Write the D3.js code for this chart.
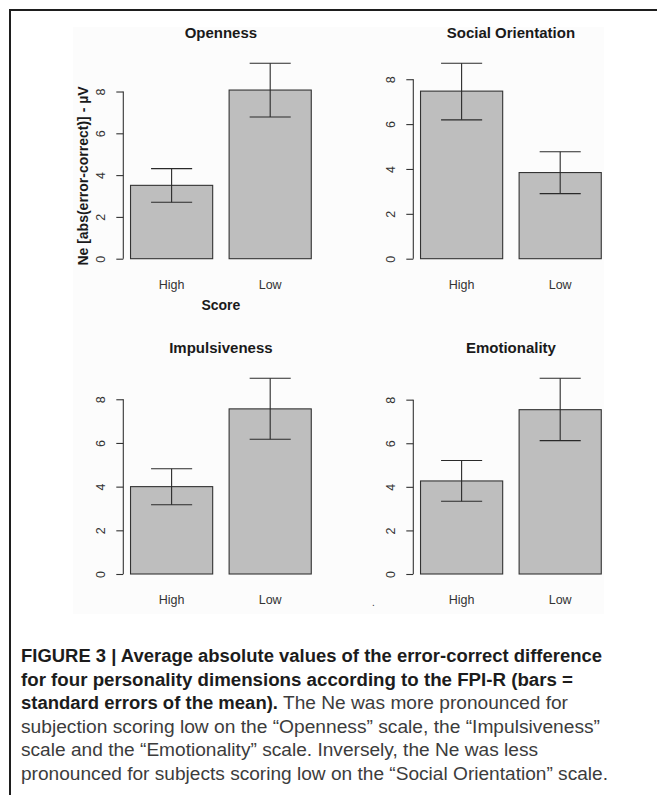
<!DOCTYPE html>
<html>
<head>
<meta charset="utf-8">
<script src="https://cdn.jsdelivr.net/npm/d3@7"></script>
<style>
  html, body { margin: 0; padding: 0; background: #fff; }
  svg { display: block; }
</style>
</head>
<body>
<svg id="chart" width="657" height="795"></svg>
<script>
// ---- data ----
const panelTitles = ["Openness", "Social Orientation", "Impulsiveness", "Emotionality"];
const categories = ["High", "Low"];
const means = [[3.51, 8.07], [7.47, 3.84], [4.00, 7.56], [4.27, 7.54]];
const lowerSE = [[2.70, 6.78], [6.19, 2.90], [3.17, 6.17], [3.34, 6.12]];
const upperSE = [[4.31, 9.35], [8.71, 4.77], [4.82, 8.96], [5.21, 8.98]];
const yTicks = [0, 2, 4, 6, 8];
const yTitle = "Ne [abs(error-correct)] - µV";
const xTitle = "Score";
const captionLines = [
  [{t: "FIGURE 3 | Average absolute values of the error-correct difference", b: true}],
  [{t: "for four personality dimensions according to the FPI-R (bars =", b: true}],
  [{t: "standard errors of the mean).", b: true}, {t: "The Ne was more pronounced for", b: false}],
  [{t: "subjection scoring low on the “Openness” scale, the “Impulsiveness”", b: false}],
  [{t: "scale and the “Emotionality” scale. Inversely, the Ne was less", b: false}],
  [{t: "pronounced for subjects scoring low on the “Social Orientation” scale.", b: false}]
];

// ---- layout ----
const svg = d3.select("#chart");
const font = "'Liberation Sans', Arial, Helvetica, sans-serif";
const colAxisX = [123.3, 413.3];
const rowY0 = [258.7, 574];
const rowTop = [63.3, 378.3];
const plotW = 195.2;

// frame
svg.append("line").attr("x1", 9.5).attr("x2", 657).attr("y1", 10).attr("y2", 10)
  .attr("stroke", "#1e1e1e").attr("stroke-width", 2);
svg.append("line").attr("x1", 10).attr("x2", 10).attr("y1", 9).attr("y2", 795)
  .attr("stroke", "#1e1e1e").attr("stroke-width", 2);
// faint figure background
svg.append("rect").attr("x", 73).attr("y", 27).attr("width", 531).attr("height", 587)
  .attr("fill", "#fcfcfc");

panelTitles.forEach((title, i) => {
  const col = i % 2, row = Math.floor(i / 2);
  const ax = colAxisX[col], y0 = rowY0[row], yT = rowTop[row];
  const ymax = d3.max(upperSE[i]);
  const x = d3.scaleBand().domain(categories).range([ax, ax + plotW])
    .paddingInner(0.2 / 1.2).paddingOuter(0.088 / 1.2);
  const y = d3.scaleLinear().domain([0, ymax]).range([y0, yT]);
  const g = svg.append("g");

  // bars
  g.selectAll("rect.bar").data(categories).enter().append("rect")
    .attr("class", "bar")
    .attr("x", d => x(d))
    .attr("width", x.bandwidth())
    .attr("y", (d, j) => y(means[i][j]))
    .attr("height", (d, j) => y(0) - y(means[i][j]))
    .attr("fill", "#bebebe").attr("stroke", "#333").attr("stroke-width", 1.1);

  // error bars
  const capHalf = x.bandwidth() / 4;
  categories.forEach((c, j) => {
    const cx = x(c) + x.bandwidth() / 2;
    const eb = g.append("g").attr("stroke", "#2a2a2a").attr("stroke-width", 1.1);
    eb.append("line").attr("x1", cx).attr("x2", cx)
      .attr("y1", y(lowerSE[i][j])).attr("y2", y(upperSE[i][j]));
    eb.append("line").attr("x1", cx - capHalf).attr("x2", cx + capHalf)
      .attr("y1", y(upperSE[i][j])).attr("y2", y(upperSE[i][j]));
    eb.append("line").attr("x1", cx - capHalf).attr("x2", cx + capHalf)
      .attr("y1", y(lowerSE[i][j])).attr("y2", y(lowerSE[i][j]));
  });

  // y axis
  const yAxis = d3.axisLeft(y).tickValues(yTicks).tickSize(7).tickSizeOuter(0).tickPadding(11);
  const ya = g.append("g").attr("transform", `translate(${ax},0)`).call(yAxis);
  ya.select(".domain").attr("d", `M-0,${y(yTicks[0])}V${y(yTicks[yTicks.length - 1])}`)
    .attr("stroke", "#333").attr("stroke-width", 1.1);
  ya.selectAll(".tick line").attr("stroke", "#333").attr("stroke-width", 1.1);
  ya.selectAll(".tick text")
    .attr("x", null).attr("dy", null)
    .attr("transform", "translate(-18.5,0) rotate(-90)")
    .attr("text-anchor", "middle")
    .attr("fill", "#333")
    .style("font-family", font).style("font-size", "12.5px");

  // category labels
  g.selectAll("text.cat").data(categories).enter().append("text")
    .attr("class", "cat")
    .attr("x", d => x(d) + x.bandwidth() / 2)
    .attr("y", y0 + 30.3)
    .attr("text-anchor", "middle")
    .attr("fill", "#333")
    .style("font-family", font).style("font-size", "12.5px")
    .text(d => d);

  // title
  g.append("text")
    .attr("x", ax + plotW / 2)
    .attr("y", y0 - 221.2)
    .attr("text-anchor", "middle")
    .attr("fill", "#1a1a1a")
    .style("font-family", font).style("font-size", "15px").style("font-weight", "bold")
    .text(title);

  if (i === 0) {
    g.append("text")
      .attr("transform", `translate(88,${(y0 + yT) / 2 + 15}) rotate(-90)`)
      .attr("text-anchor", "middle")
      .attr("fill", "#1a1a1a")
      .style("font-family", font).style("font-size", "14px").style("font-weight", "bold")
      .text(yTitle);
    g.append("text")
      .attr("x", ax + plotW / 2)
      .attr("y", y0 + 51.5)
      .attr("text-anchor", "middle")
      .attr("fill", "#1a1a1a")
      .style("font-family", font).style("font-size", "14px").style("font-weight", "bold")
      .text(xTitle);
  }
});

// stray dot present in the original figure
svg.append("text").attr("x", 372).attr("y", 606).attr("fill", "#333")
  .style("font-family", font).style("font-size", "10px").text(".");

// caption
const capFont = "'Liberation Sans Narrow', 'Liberation Sans', Arial, sans-serif";
const capX = 21, capY0 = 662, capLH = 23.6;
const capEnds = [[602], [573], [278, 568], [600], [538], [608]];
captionLines.forEach((parts, li) => {
  let xStart = capX;
  parts.forEach((p, pi) => {
    const xEnd = capEnds[li][pi];
    svg.append("text")
      .attr("x", xStart)
      .attr("y", capY0 + li * capLH)
      .attr("fill", p.b ? "#1c1c1c" : "#3c3c3c")
      .attr("textLength", xEnd - xStart)
      .attr("lengthAdjust", "spacingAndGlyphs")
      .style("font-family", capFont).style("font-size", "17.5px")
      .style("font-weight", p.b ? "bold" : "normal")
      .text(p.t);
    xStart = xEnd + 5;
  });
});
</script>
</body>
</html>
